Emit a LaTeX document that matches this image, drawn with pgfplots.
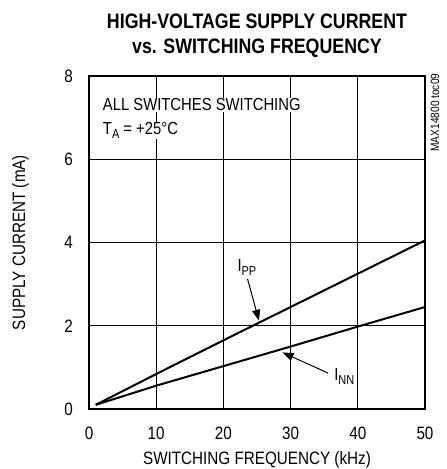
\documentclass[border=0pt]{standalone}
\usepackage{fontspec}
\setmainfont[FakeStretch=0.85]{Liberation Sans}
\usepackage{pgfplots}
\pgfplotsset{compat=1.18}
\usetikzlibrary{arrows.meta}

\newcommand{\sub}[1]{\raisebox{-0.35ex}{\fontsize{13}{13}\selectfont #1}}

\begin{document}
\begin{tikzpicture}[x=1bp,y=1bp]
\begin{axis}[
    scale only axis,
    width=336bp, height=333bp,
    xmin=0, xmax=50, ymin=0, ymax=8,
    xtick={0,10,...,50}, ytick={0,2,...,8},
    grid=major,
    major grid style={black, line width=0.8bp},
    major tick length=0pt,
    axis line style={line width=2.2bp},
    /pgf/number format/assume math mode=true,
    tick label style={font=\fontsize{18}{20}\selectfont, inner sep=0pt},
    xticklabel style={anchor=base, yshift=-30bp},
    yticklabel style={anchor=east, xshift=-16bp},
    label style={font=\fontsize{18}{20}\selectfont, inner sep=0pt},
    xlabel={SWITCHING FREQUENCY (kHz)},
    xlabel style={at={(axis description cs:0.5,-0.168)}, anchor=base},
    ylabel={SUPPLY CURRENT (mA)},
    ylabel style={at={(axis description cs:-0.19,0.5)}, anchor=base, rotate=0},
    clip=false,
]
\addplot[black, line width=2bp] coordinates {(1,0.1)(10,0.84)(20,1.65)(30,2.45)(40,3.25)(50,4.05)};
\addplot[black, line width=2bp] coordinates {(1,0.1)(10,0.56)(20,1.03)(30,1.5)(40,1.98)(50,2.45)};

\coordinate (O) at (rel axis cs:0,0);

\node[anchor=base, font=\bfseries\fontsize{21}{24}\selectfont] at (axis description cs:0.5,1.144) {HIGH-VOLTAGE SUPPLY CURRENT};
\node[anchor=base, font=\bfseries\fontsize{21}{24}\selectfont] at (axis description cs:0.5,1.069) {vs. SWITCHING FREQUENCY};

\node[anchor=base west, fill=white, inner sep=1bp, font=\fontsize{17.5}{20}\selectfont] at (axis description cs:0.038,0.895) {ALL SWITCHES SWITCHING};
\node[anchor=base west, fill=white, inner sep=1bp, font=\fontsize{17.5}{20}\selectfont] at (axis description cs:0.038,0.823) {T\sub{A} = +25°C};

\node[rotate=90, font=\fontsize{12}{13}\selectfont] at (axis description cs:1.03,0.89) {MAX14800 toc09};

\node[font=\fontsize{17.5}{20}\selectfont] at (axis cs:23.5,3.4) {I\sub{PP}};
\draw[line width=1bp, -{Triangle[length=11bp, width=8bp]}] (axis cs:23.6,3.12) -- (axis cs:25.3,2.12);

\node[fill=white, inner sep=1bp, font=\fontsize{17.5}{20}\selectfont] at (axis cs:38,0.78) {I\sub{NN}};
\draw[line width=1bp, -{Triangle[length=11bp, width=8bp]}] (axis cs:35.6,0.86) -- (axis cs:28.8,1.36);
\end{axis}
\pgfresetboundingbox
\path[use as bounding box] ([shift={(-89bp,-60bp)}]O) rectangle ([shift={(358bp,409bp)}]O);
\end{tikzpicture}
\end{document}
